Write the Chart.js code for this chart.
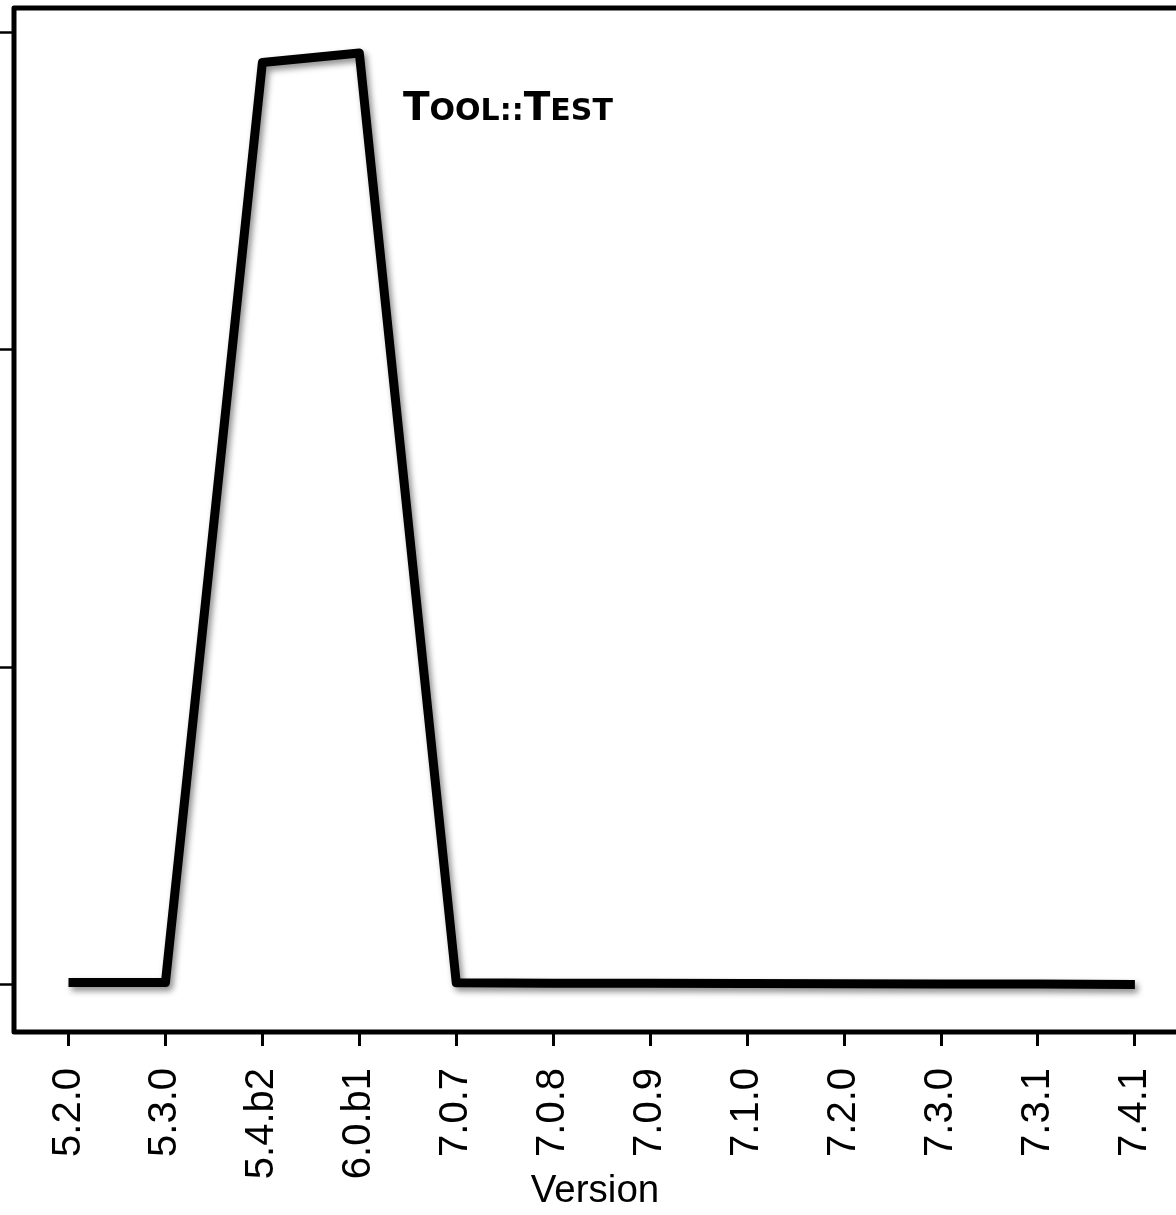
<!DOCTYPE html>
<html lang="en">
<head>
    <meta charset="UTF-8">
    <title>Tool::Test by version</title>
    <script src="https://cdn.jsdelivr.net/npm/chart.js@4.4.0/dist/chart.umd.min.js"></script>
    <style>
        html, body { margin: 0; padding: 0; background: #fff; }
        canvas { display: block; }
    </style>
</head>
<body>
    <canvas id="versionChart" width="1176" height="1215"></canvas>

    <script>
        // Data
        const versions = ['5.2.0', '5.3.0', '5.4.b2', '6.0.b1', '7.0.7', '7.0.8', '7.0.9', '7.1.0', '7.2.0', '7.3.0', '7.3.1', '7.4.1'];
        const values = [0.006, 0.006, 2.905, 2.935, 0.005, 0.004, 0.004, 0.003, 0.002, 0.001, 0.001, 0];
        const yTicks = [0, 1, 2, 3];
        const titleParts = [['T', 39], ['OOL::', 30], ['T', 39], ['EST', 30]];

        // Frame on left / top / bottom (right side runs off the picture)
        const framePlugin = {
            id: 'frame',
            afterDraw(chart) {
                const { ctx, chartArea: a } = chart;
                ctx.save();
                ctx.strokeStyle = '#000';
                ctx.lineWidth = 5;
                ctx.lineJoin = 'round';
                ctx.beginPath();
                ctx.moveTo(a.right + 10, a.top);
                ctx.lineTo(a.left, a.top);
                ctx.lineTo(a.left, a.bottom);
                ctx.lineTo(a.right + 10, a.bottom);
                ctx.stroke();
                ctx.restore();
            }
        };

        // Soft drop shadow under the line
        const shadowPlugin = {
            id: 'lineShadow',
            beforeDatasetsDraw(chart) {
                const ctx = chart.ctx;
                ctx.save();
                ctx.shadowColor = 'rgba(0,0,0,0.45)';
                ctx.shadowBlur = 6;
                ctx.shadowOffsetX = 3;
                ctx.shadowOffsetY = 4;
            },
            afterDatasetsDraw(chart) {
                chart.ctx.restore();
            }
        };

        // Small-caps label inside the plot
        const labelPlugin = {
            id: 'smallCapsLabel',
            afterDraw(chart) {
                const ctx = chart.ctx;
                ctx.save();
                ctx.fillStyle = '#000';
                ctx.textBaseline = 'alphabetic';
                let x = 403;
                titleParts.forEach(([txt, size]) => {
                    ctx.font = 'bold ' + size + 'px "DejaVu Sans"';
                    ctx.fillText(txt, x, 120);
                    x += ctx.measureText(txt).width;
                });
                ctx.restore();
            }
        };

        new Chart(document.getElementById('versionChart'), {
            type: 'line',
            data: {
                datasets: [{
                    data: values.map((v, i) => ({ x: i, y: v })),
                    borderColor: '#000',
                    borderWidth: 9,
                    borderJoinStyle: 'round',
                    borderCapStyle: 'butt',
                    pointRadius: 0,
                    tension: 0,
                    fill: false
                }]
            },
            options: {
                responsive: false,
                animation: false,
                layout: { padding: { top: 8, left: 0, right: 0, bottom: 0 } },
                plugins: {
                    legend: { display: false },
                    tooltip: { enabled: false }
                },
                scales: {
                    x: {
                        type: 'linear',
                        min: -0.562,
                        max: 11.424,
                        afterBuildTicks: s => { s.ticks = versions.map((v, i) => ({ value: i })); },
                        afterFit: s => {
                            s.height = 183;
                            s.paddingLeft = 0;
                            s.paddingRight = 0;
                        },
                        border: { display: false },
                        grid: {
                            drawOnChartArea: false,
                            tickLength: 14,
                            tickWidth: 3,
                            tickColor: '#000'
                        },
                        ticks: {
                            autoSkip: false,
                            minRotation: 90,
                            maxRotation: 90,
                            padding: 22,
                            color: '#000',
                            font: { family: '"Liberation Sans", Arial', size: 40 },
                            callback: v => versions[v]
                        },
                        title: {
                            display: true,
                            text: 'Version',
                            color: '#000',
                            font: { family: '"Liberation Sans", Arial', size: 38.5 },
                            padding: { top: 0, bottom: 1 }
                        }
                    },
                    y: {
                        min: -0.150,
                        max: 3.077,
                        afterBuildTicks: s => { s.ticks = yTicks.map(v => ({ value: v })); },
                        afterFit: s => { s.width = 14; },
                        border: { display: false },
                        grid: {
                            drawOnChartArea: false,
                            tickLength: 14,
                            tickWidth: 2.5,
                            tickColor: '#000'
                        },
                        ticks: { display: false }
                    }
                }
            },
            plugins: [shadowPlugin, framePlugin, labelPlugin]
        });
    </script>
</body>
</html>
